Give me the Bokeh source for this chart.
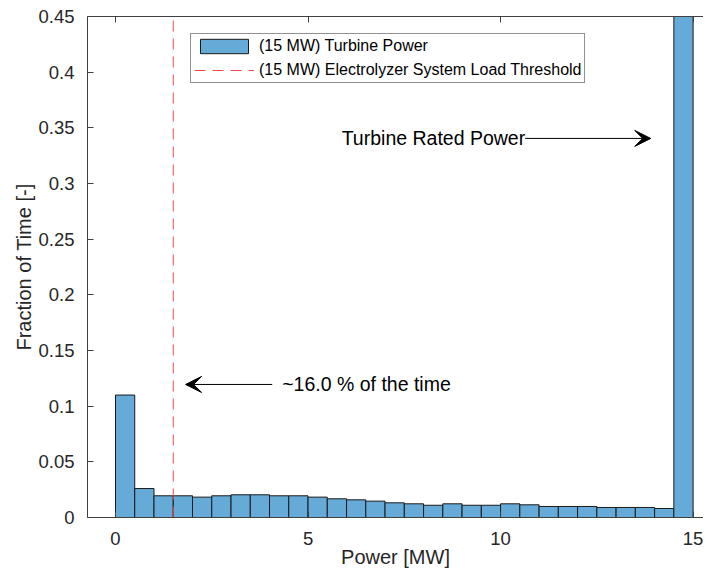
from bokeh.plotting import figure
from bokeh.models import (Range1d, FixedTicker, LinearAxis, Legend, LegendItem,
                          Arrow, VeeHead, Label, ColumnDataSource)
from bokeh.embed import file_html
from bokeh.resources import INLINE

# ---- data ----
bin_edges = [i * 0.5 for i in range(31)]
fractions = [0.110, 0.026, 0.0195, 0.0195, 0.0183, 0.0195, 0.0204, 0.0204, 0.0195, 0.0195,
             0.0183, 0.0168, 0.0159, 0.0147, 0.0132, 0.0123, 0.0110, 0.0123, 0.0110, 0.0110,
             0.0123, 0.0114, 0.0099, 0.0099, 0.0099, 0.0090, 0.0090, 0.0090, 0.0081, 0.482]
threshold_mw = 1.5
x_ticks = [0, 5, 10, 15]
y_ticks = [0, 0.05, 0.1, 0.15, 0.2, 0.25, 0.3, 0.35, 0.4, 0.45]
y_tick_labels = ["0", "0.05", "0.1", "0.15", "0.2", "0.25", "0.3", "0.35", "0.4", "0.45"]
y_max = 0.45

# annotation anchors (data units)
ann1_text = "~16.0 % of the time"
ann1_tail = (4.07, 0.1195)
ann1_head = (1.82, 0.1195)
ann1_text_pos = (4.33, 0.1195)
ann2_text = "Turbine Rated Power"
ann2_tail = (10.64, 0.3405)
ann2_head = (13.9, 0.3405)

FONT = "Liberation Sans"
BAR = "#66AAD7"
AX = "#404040"

p = figure(width=703, height=572, output_backend="svg", toolbar_location=None,
           x_range=Range1d(-0.727, 15.27), y_range=Range1d(0, y_max),
           min_border_left=87, min_border_right=0, min_border_top=16, min_border_bottom=55)
p.outline_line_color = None
p.xgrid.visible = False
p.ygrid.visible = False
p.background_fill_color = "white"
p.border_fill_color = "white"

src = ColumnDataSource(dict(left=bin_edges[:-1], right=bin_edges[1:],
                            top=fractions, bottom=[0] * len(fractions)))
bars = p.quad(left="left", right="right", top="top", bottom="bottom", source=src,
              fill_color=BAR, line_color="#1a1a1a", line_width=1)

thr = p.line(x=[threshold_mw, threshold_mw], y=[0, y_max], line_color="#f04848",
             line_width=1, line_dash="11 7", line_alpha=1.0)

# axes
for ax in (p.xaxis[0], p.yaxis[0]):
    ax.axis_line_color = AX
    ax.major_tick_line_color = AX
    ax.major_tick_in = 6
    ax.major_tick_out = 0
    ax.minor_tick_line_color = None
    ax.major_label_text_font = FONT
    ax.major_label_text_font_size = "18.5px"
    ax.major_label_text_color = "#262626"
    ax.axis_label_text_font = FONT
    ax.axis_label_text_font_size = "20px"
    ax.axis_label_text_font_style = "normal"
    ax.axis_label_text_color = "#262626"

p.xaxis.ticker = FixedTicker(ticks=x_ticks)
p.yaxis.ticker = FixedTicker(ticks=y_ticks)
p.yaxis.major_label_overrides = {t: l for t, l in zip(y_ticks, y_tick_labels)}
p.xaxis.axis_label = "Power [MW]"
p.yaxis.axis_label = "Fraction of Time [-]"
p.xaxis.major_label_standoff = 14
p.xaxis.axis_label_standoff = -2
p.yaxis.major_label_standoff = 13
p.yaxis.axis_label_standoff = 0

top_ax = LinearAxis(ticker=FixedTicker(ticks=x_ticks), axis_line_color=AX,
                    major_tick_line_color=AX, major_tick_in=6, major_tick_out=0,
                    minor_tick_line_color=None, major_label_text_font_size="0px",
                    major_label_standoff=0, major_label_text_color=None)
p.add_layout(top_ax, "above")

# legend
legend = Legend(items=[LegendItem(label="(15 MW) Turbine Power", renderers=[bars]),
                       LegendItem(label="(15 MW) Electrolyzer System Load Threshold", renderers=[thr])],
                location=(103, 434), orientation="vertical",
                label_text_font=FONT, label_text_font_size="16px", label_text_color="#000000",
                glyph_width=60, glyph_height=18, label_standoff=5, padding=3, spacing=6,
                margin=0, border_line_color="#262626", border_line_width=1,
                background_fill_color="white", background_fill_alpha=1.0)
p.add_layout(legend)

# annotations
p.add_layout(Arrow(end=VeeHead(size=16, fill_color="black", line_color="black"),
                   x_start=ann1_tail[0], y_start=ann1_tail[1],
                   x_end=ann1_head[0], y_end=ann1_head[1], line_color="black", line_width=1))
p.add_layout(Label(x=ann1_text_pos[0], y=ann1_text_pos[1], text=ann1_text,
                   text_font=FONT, text_font_size="19.5px", text_baseline="middle",
                   text_align="left", text_color="black"))
p.add_layout(Arrow(end=VeeHead(size=16, fill_color="black", line_color="black"),
                   x_start=ann2_tail[0], y_start=ann2_tail[1],
                   x_end=ann2_head[0], y_end=ann2_head[1], line_color="black", line_width=1))
p.add_layout(Label(x=ann2_tail[0], y=ann2_tail[1], text=ann2_text,
                   text_font=FONT, text_font_size="19.5px", text_baseline="middle",
                   text_align="right", text_color="black"))

open("out.html", "w").write(file_html(p, INLINE))
